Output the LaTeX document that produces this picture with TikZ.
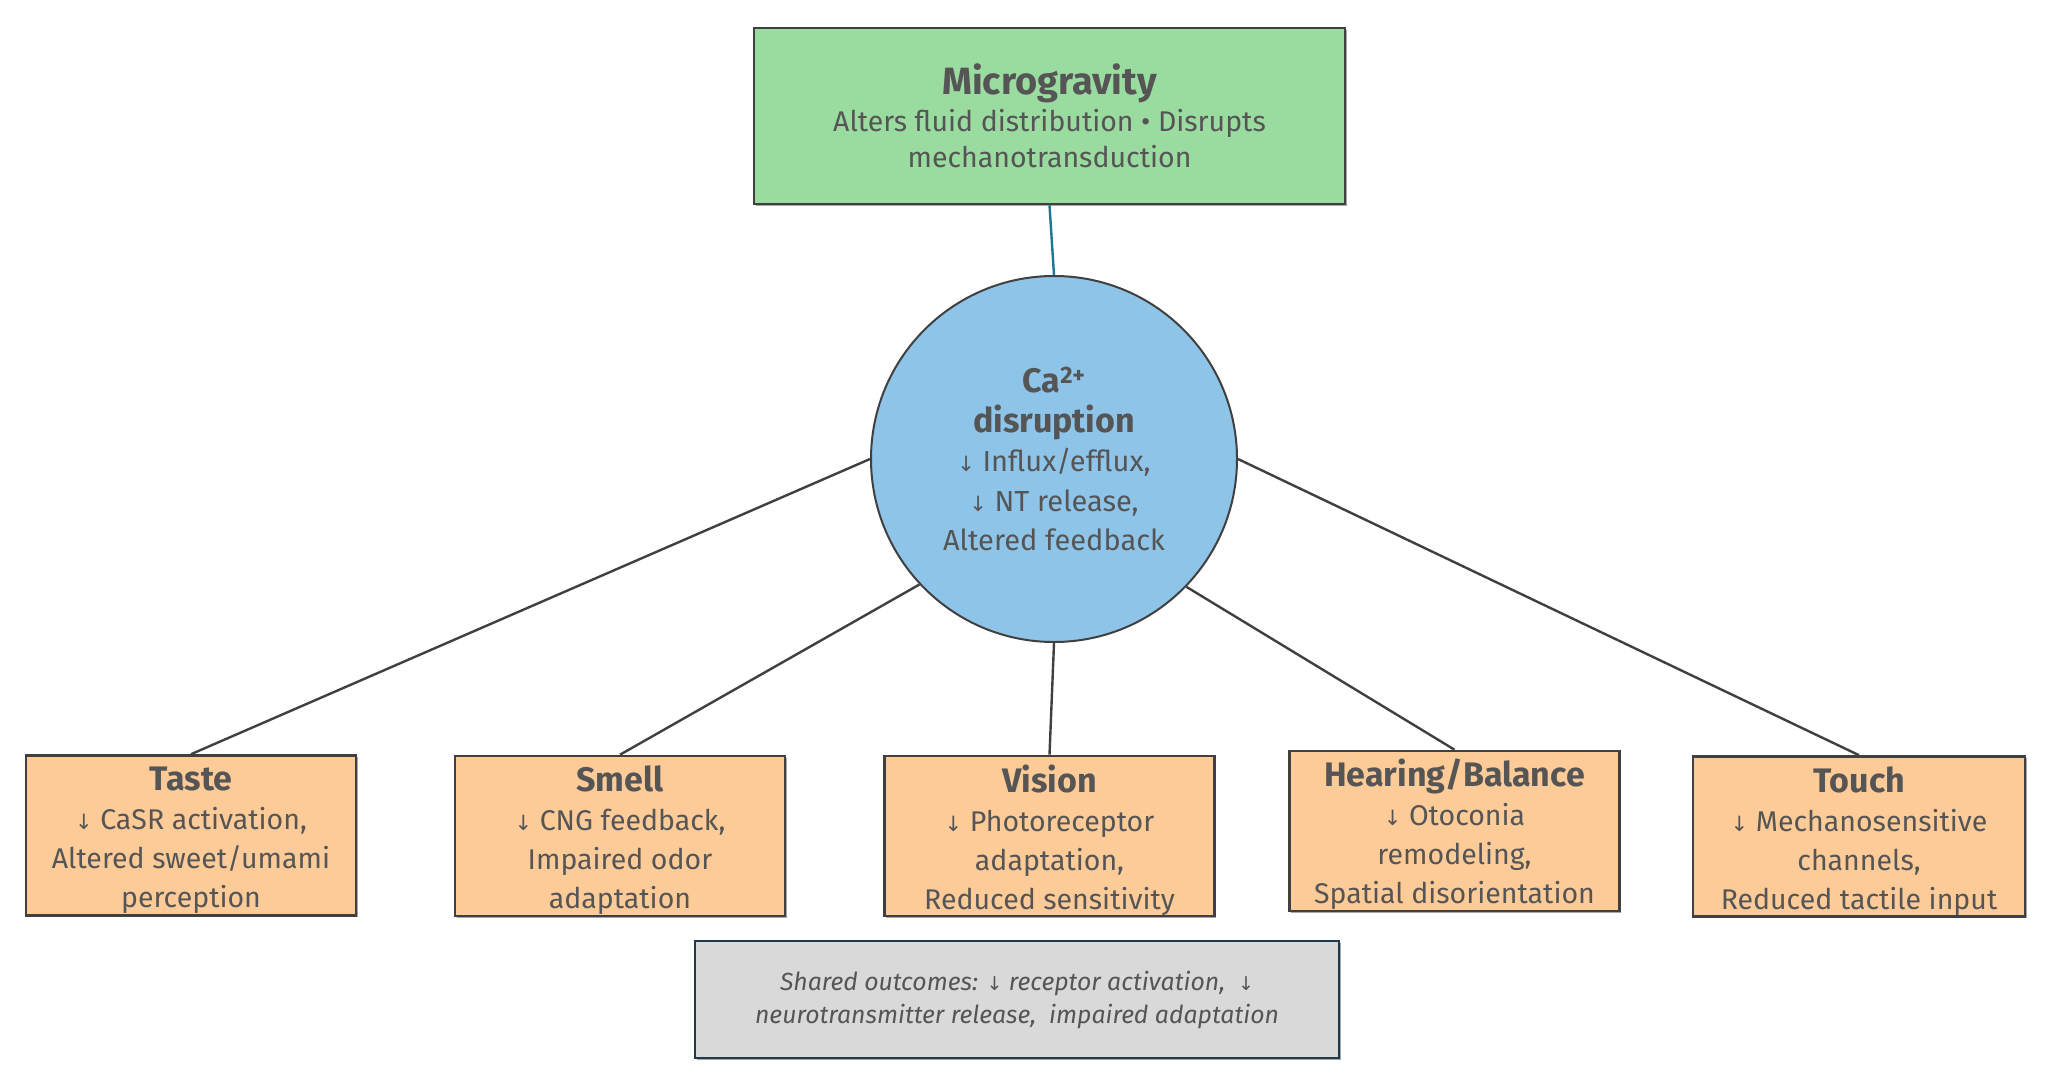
\documentclass[tikz,border=0pt]{standalone}
\usepackage{fontspec}
\usetikzlibrary{shadows}
\setmainfont{Fira Sans}
\newfontfamily\arrowfont{DejaVu Sans}
\newcommand{\dnarr}{{\arrowfont\fontsize{21}{39}\selectfont ↓}}
\definecolor{gfill}{HTML}{9ADBA0}
\definecolor{bfill}{HTML}{8DC4E8}
\definecolor{ofill}{HTML}{FDCB98}
\definecolor{sfill}{HTML}{D9D9D9}
\definecolor{edge}{HTML}{404040}
\definecolor{navy}{HTML}{1F3A4D}
\definecolor{teal}{HTML}{1B7893}
\definecolor{txt}{HTML}{555555}
\tikzset{
  shd/.style={drop shadow={opacity=0.35, shadow xshift=1.8pt, shadow yshift=-1.8pt, fill=black}},
  bx/.style={draw=edge, line width=2.6pt, align=center, text=txt, inner sep=0pt, shd,
    font=\fontsize{28.5}{39}\selectfont},
  sense/.style={bx, fill=ofill, minimum width=330pt, minimum height=160pt},
  sensetxt/.style={align=center, text=txt, inner sep=0pt, font=\fontsize{28.5}{39}\selectfont},
  conn/.style={draw=edge, line width=2.4pt}
}
\newcommand{\ttlfont}{\bfseries\fontsize{34}{39}\selectfont}
\begin{document}
\begin{tikzpicture}[x=1pt,y=-1pt]
\useasboundingbox (0,0) rectangle (2055,1084);
\fill[white] (0,0) rectangle (2055,1084);

\node[bx, fill=gfill, minimum width=591pt, minimum height=176pt, font=\fontsize{28.5}{36.5}\selectfont] (micro) at (1049.5,116)
  {{\bfseries\fontsize{38}{45}\selectfont Microgravity}\\Alters fluid distribution • Disrupts\\mechanotransduction};

\node[circle, draw=edge, line width=2pt, fill=bfill, minimum size=366pt, align=center, text=txt, inner sep=0pt,
  font=\fontsize{29}{39.5}\selectfont] (ca) at (1054,459)
  {{\ttlfont Ca\textsuperscript{2+}}\\{\ttlfont disruption}\\\dnarr{} Influx/efflux,\\\dnarr{} NT release,\\Altered feedback};

\node[sense] (taste) at (191,835.5) {};
\node[sense] (smell) at (620,836) {};
\node[sense] (vision) at (1049.5,836) {};
\node[sense] (hear) at (1454.5,831) {};
\node[sense, minimum width=332pt] (touch) at (1859,836.5) {};

\node[sensetxt] (tastet) at ([yshift=-4.5pt]taste.center) {{\ttlfont Taste}\\\dnarr{} CaSR activation,\\Altered sweet/umami\\perception};
\node[sensetxt] (smellt) at ([yshift=-4.5pt]smell.center) {{\ttlfont Smell}\\\dnarr{} CNG feedback,\\Impaired odor\\adaptation};
\node[sensetxt] (visiont) at ([yshift=-4.5pt]vision.center) {{\ttlfont Vision}\\\dnarr{} Photoreceptor\\adaptation,\\Reduced sensitivity};
\node[sensetxt] (heart) at ([yshift=-3pt]hear.center) {{\ttlfont Hearing/Balance}\\\dnarr{} Otoconia\\remodeling,\\Spatial disorientation};
\node[sensetxt] (toucht) at ([yshift=-4.5pt]touch.center) {{\ttlfont Touch}\\\dnarr{} Mechanosensitive\\channels,\\Reduced tactile input};

\node[bx, draw=navy, fill=sfill, minimum width=644pt, minimum height=117pt, font=\itshape\fontsize{24.8}{33}\selectfont] (shared) at (1017,999.5)
  {Shared outcomes: {\arrowfont\fontsize{19}{33}\selectfont ↓} receptor activation,\ \ {\arrowfont\fontsize{19}{33}\selectfont ↓}\\neurotransmitter release,\ \ impaired adaptation};

\draw[draw=teal, line width=2.4pt] (micro.south) -- (ca.north);
\draw[conn] (ca.west) -- (taste.north);
\draw[conn] (ca.223.6) -- (smell.north);
\draw[conn] (ca.south) -- (vision.north);
\draw[conn] (ca.316.7) -- (hear.north);
\draw[conn] (ca.east) -- (touch.north);
\end{tikzpicture}
\end{document}
